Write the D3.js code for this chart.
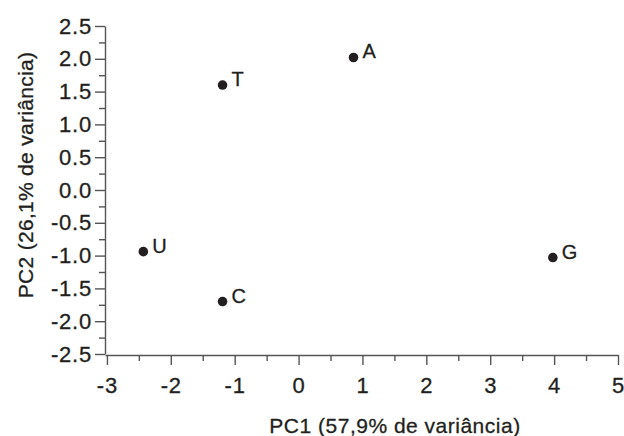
<!DOCTYPE html>
<html>
<head>
<meta charset="utf-8">
<script src="https://cdn.jsdelivr.net/npm/d3@7"></script>
<style>
	body { margin: 0; background: #fff; }
	svg { display: block; font-family: "Liberation Sans", Arial, sans-serif; }
	.axis path, .axis line { stroke: #555; stroke-width: 1.4; }
	.axis text { fill: #231f20; font-size: 22px; letter-spacing: 0.8px; stroke: #231f20; stroke-width: 0.3px; }
	.lbl { fill: #231f20; stroke: #231f20; stroke-width: 0.3px; }
</style>
</head>
<body>
<div id="chart"></div>
<script>
// PCA scores
const labels = ['A', 'T', 'U', 'C', 'G']
const pc1 = [0.86, -1.19, -2.43, -1.19, 3.98]
const pc2 = [2.02, 1.60, -0.94, -1.70, -1.03]

const xTicks = [-3, -2, -1, 0, 1, 2, 3, 4, 5]
const xMinor = [-2.5, -1.5, -0.5, 0.5, 1.5, 2.5, 3.5, 4.5]
const yTicks = [-2.5, -2.0, -1.5, -1.0, -0.5, 0.0, 0.5, 1.0, 1.5, 2.0, 2.5]
const yMinor = [-2.25, -1.75, -1.25, -0.75, -0.25, 0.25, 0.75, 1.25, 1.75, 2.25]

const xTitle = 'PC1 (57,9% de variância)'
const yTitle = 'PC2 (26,1% de variância)'

const width = 624
const height = 436
const margin = { top: 26, right: 6, bottom: 82, left: 105 }

const svg = d3.select('#chart')
	.append('svg')
	.attr('width', width)
	.attr('height', height)

const x = d3.scaleLinear()
	.domain([-3.03, 5])
	.range([margin.left, width - margin.right])

const y = d3.scaleLinear()
	.domain([-2.5, 2.5])
	.range([height - margin.bottom, margin.top])

const fmtY = d => d.toFixed(1)
const fmtX = d => String(d)

// x axis
svg.append('g')
	.attr('class', 'axis')
	.attr('transform', `translate(0,${y(-2.5) + 1})`)
	.call(d3.axisBottom(x).tickValues(xTicks).tickSize(10).tickPadding(12).tickFormat(fmtX).tickSizeOuter(0))
	.call(g => g.selectAll('text').attr('dy', '0.71em'))

svg.append('g')
	.attr('class', 'axis')
	.attr('transform', `translate(0,${y(-2.5) + 1})`)
	.call(d3.axisBottom(x).tickValues(xMinor).tickSize(6).tickFormat(''))
	.call(g => g.select('.domain').remove())

// y axis
svg.append('g')
	.attr('class', 'axis')
	.attr('transform', `translate(${margin.left},0)`)
	.call(d3.axisLeft(y).tickValues(yTicks).tickSize(10).tickPadding(3).tickFormat(fmtY).tickSizeOuter(0))

svg.append('g')
	.attr('class', 'axis')
	.attr('transform', `translate(${margin.left},0)`)
	.call(d3.axisLeft(y).tickValues(yMinor).tickSize(6).tickFormat(''))
	.call(g => g.select('.domain').remove())

// keep the plain hyphen used in the original
svg.selectAll('.axis text').text(function () { return this.textContent.replace('−', '-') })

// titles
svg.append('text')
	.attr('class', 'lbl')
	.attr('x', 395)
	.attr('y', 433)
	.attr('text-anchor', 'middle')
	.style('font-size', '21px')
	.style('letter-spacing', '0.5px')
	.text(xTitle)

svg.append('text')
	.attr('class', 'lbl')
	.attr('transform', 'translate(33,175) rotate(-90)')
	.attr('text-anchor', 'middle')
	.style('font-size', '21px')
	.style('letter-spacing', '0.3px')
	.text(yTitle)

// points
const points = labels.map((d, i) => ({ label: d, pc1: pc1[i], pc2: pc2[i] }))

const pts = svg.append('g')
	.selectAll('g')
	.data(points)
	.enter()
	.append('g')
	.attr('transform', d => `translate(${x(d.pc1)},${y(d.pc2)})`)

pts.append('circle')
	.attr('r', 4.8)
	.attr('fill', '#231f20')

pts.append('text')
	.attr('class', 'lbl')
	.attr('x', 9)
	.attr('y', 1)
	.style('font-size', '20px')
	.text(d => d.label)
</script>
</body>
</html>
